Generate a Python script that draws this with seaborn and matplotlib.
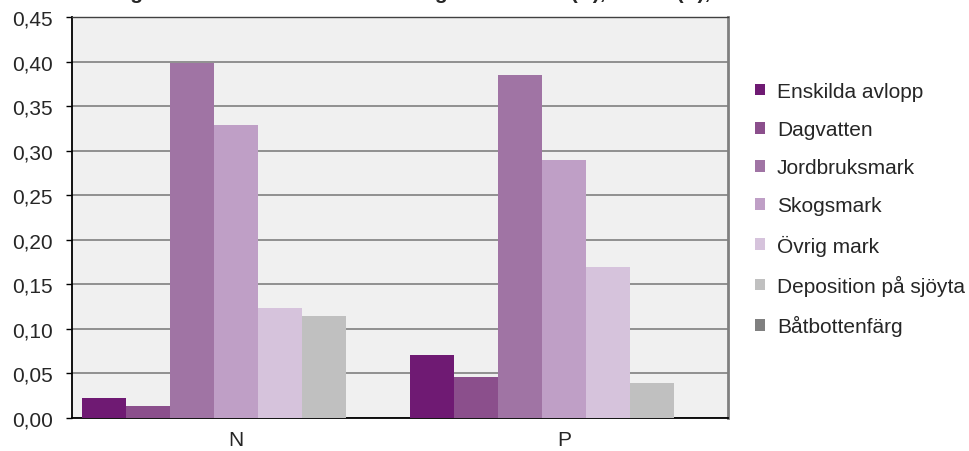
import matplotlib
matplotlib.use("Agg")
import matplotlib.pyplot as plt
from matplotlib.ticker import FuncFormatter, MultipleLocator
import seaborn as sns
import pandas as pd

# Relative andelar per källa för kväve (N) och fosfor (P)
amnen = ["N", "P"]
kallor = ["Enskilda avlopp", "Dagvatten", "Jordbruksmark", "Skogsmark",
          "Övrig mark", "Deposition på sjöyta", "Båtbottenfärg"]
andel_N = [0.022, 0.013, 0.398, 0.329, 0.123, 0.115, 0.0]
andel_P = [0.071, 0.046, 0.385, 0.290, 0.170, 0.039, 0.0]
farger = ["#6f1a73", "#8b4f8c", "#a074a4", "#bf9fc6", "#d6c3dc", "#c0c0c0", "#808080"]
titel = "Fördelning av den totala bruttobelastningen av kväve (N), fosfor (P),"

rows = []
for amne, vals in zip(amnen, [andel_N, andel_P]):
    for k, v in zip(kallor, vals):
        rows.append({"Ämne": amne, "Källa": k, "Andel": v})
df = pd.DataFrame(rows)

sns.set_theme(style="white")
plt.rcParams["font.family"] = ["Liberation Sans", "DejaVu Sans"]

fig = plt.figure(figsize=(9.69, 4.52), dpi=100)
ax = fig.add_axes([72 / 969, 33 / 452, 656 / 969, 401 / 452])
ax.set_facecolor("#f0f0f0")

sns.barplot(data=df, x="Ämne", y="Andel", hue="Källa", hue_order=kallor,
            palette=farger, saturation=1, width=0.936, linewidth=0,
            errorbar=None, ax=ax, zorder=3)

ax.set_ylim(0, 0.45)
ax.set_xlim(-0.5, 1.5)
ax.yaxis.set_major_locator(MultipleLocator(0.05))
ax.yaxis.set_major_formatter(FuncFormatter(lambda v, p: f"{v:.2f}".replace(".", ",")))
ax.grid(axis="y", color="#808080", linewidth=1.2, zorder=1)
ax.set_axisbelow(True)
ax.set_xlabel("")
ax.set_ylabel("")

ax.tick_params(axis="y", which="major", direction="out", length=4, width=1,
               color="black", pad=10, labelsize=15, left=True)
ax.tick_params(axis="x", length=0, pad=9, labelsize=15)

for side in ["left", "bottom"]:
    ax.spines[side].set_color("black")
    ax.spines[side].set_linewidth(1.3)
ax.spines["top"].set_color("#404040")
ax.spines["top"].set_linewidth(1)
ax.spines["right"].set_color("#808080")
ax.spines["right"].set_linewidth(2)

handles, labels = ax.get_legend_handles_labels()
ax.legend(handles, labels, loc="center left", bbox_to_anchor=(755 / 969, 1 - 210 / 452),
          bbox_transform=fig.transFigure, frameon=False, fontsize=15,
          handlelength=0.5, handleheight=0.5, handletextpad=0.55,
          labelspacing=0.92, borderpad=0, borderaxespad=0)

# Rubriken ligger till största delen ovanför figurens kant
fig.text(35 / 969, 1 + 1 / 452, titel, fontsize=15, fontweight="bold",
         ha="left", va="baseline")

fig.savefig("out.png", dpi=100)
